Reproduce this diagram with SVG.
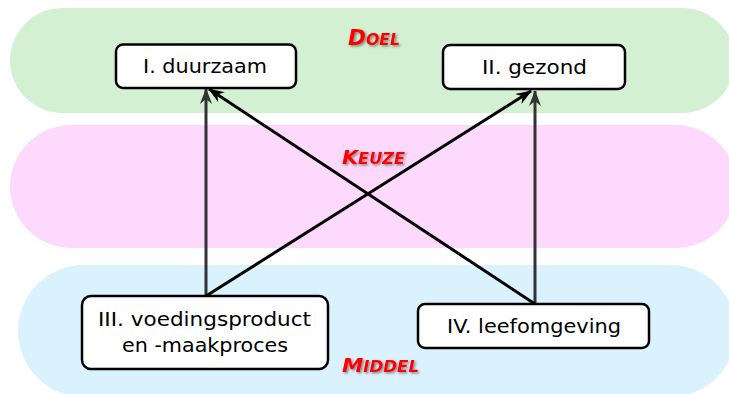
<svg xmlns="http://www.w3.org/2000/svg" width="729" height="394" viewBox="0 0 729 394">
<style>
.node rect{fill:#fff;stroke:#000;stroke-width:2.5}
.node text{font-family:"DejaVu Sans",Verdana,sans-serif;font-size:19.5px;fill:#000;text-anchor:middle}
.lbl{font-family:"DejaVu Sans",Verdana,sans-serif;font-weight:bold;font-style:italic;fill:#ff0000;filter:url(#sh)}
.e{fill:none;stroke-width:3}
.dk{stroke:#000}
.gr{stroke:#333}
</style>
<defs>
<filter id="sh" x="-20%" y="-30%" width="140%" height="160%">
<feDropShadow dx="1.5" dy="1.5" stdDeviation="0.8" flood-color="#444" flood-opacity="0.6"/>
</filter>
<marker id="ab" viewBox="0 0 16 12" refX="15" refY="6" markerWidth="16" markerHeight="12" markerUnits="userSpaceOnUse" orient="auto">
<path d="M0,0 L16,6 L0,12 L5,6 z" fill="#000"/>
</marker>
<marker id="ag" viewBox="0 0 16 12" refX="15" refY="6" markerWidth="16" markerHeight="12" markerUnits="userSpaceOnUse" orient="auto">
<path d="M0,0 L16,6 L0,12 L5,6 z" fill="#333"/>
</marker>
</defs>
<g id="bands">
<rect x="10" y="8" width="725" height="105" rx="52.5" fill="#d3f0d3"/>
<rect x="10" y="125" width="727" height="123" rx="61.5" fill="#fdd9fd"/>
<rect x="18" y="265" width="718" height="132" rx="66" fill="#daf2fd"/>
</g>
<g id="connectors">
<path class="e gr" d="M206,296 L206,89" marker-end="url(#ag)"/>
<path class="e dk" d="M206,296 L531,91" marker-end="url(#ab)"/>
<path class="e gr" d="M535,304 L535,91" marker-end="url(#ag)"/>
<path class="e dk" d="M535,304 L209,89" marker-end="url(#ab)"/>
</g>
<g id="n1" class="node">
<rect x="116" y="44.5" width="180" height="43.5" rx="7"/>
<text x="205" y="72.5" textLength="124" lengthAdjust="spacingAndGlyphs">I. duurzaam</text>
</g>
<g id="n2" class="node">
<rect x="443" y="45" width="182" height="44" rx="7"/>
<text x="534.5" y="73.5" textLength="105" lengthAdjust="spacingAndGlyphs">II. gezond</text>
</g>
<g id="n3" class="node">
<rect x="82" y="296" width="246" height="73" rx="9"/>
<text x="204.5" y="326" textLength="213" lengthAdjust="spacingAndGlyphs">III. voedingsproduct</text>
<text x="205" y="351.5" textLength="166" lengthAdjust="spacingAndGlyphs">en -maakproces</text>
</g>
<g id="n4" class="node">
<rect x="418" y="304" width="231" height="44" rx="7"/>
<text x="534" y="333" textLength="174" lengthAdjust="spacingAndGlyphs">IV. leefomgeving</text>
</g>
<g id="labels">
<text class="lbl" x="348" y="45" textLength="52" lengthAdjust="spacingAndGlyphs"><tspan font-size="22">D</tspan><tspan font-size="16">OEL</tspan></text>
<text class="lbl" x="342" y="164" textLength="63" lengthAdjust="spacingAndGlyphs"><tspan font-size="20">K</tspan><tspan font-size="15.5">EUZE</tspan></text>
<text class="lbl" x="342" y="372" textLength="77" lengthAdjust="spacingAndGlyphs"><tspan font-size="20">M</tspan><tspan font-size="15.5">IDDEL</tspan></text>
</g>
</svg>
